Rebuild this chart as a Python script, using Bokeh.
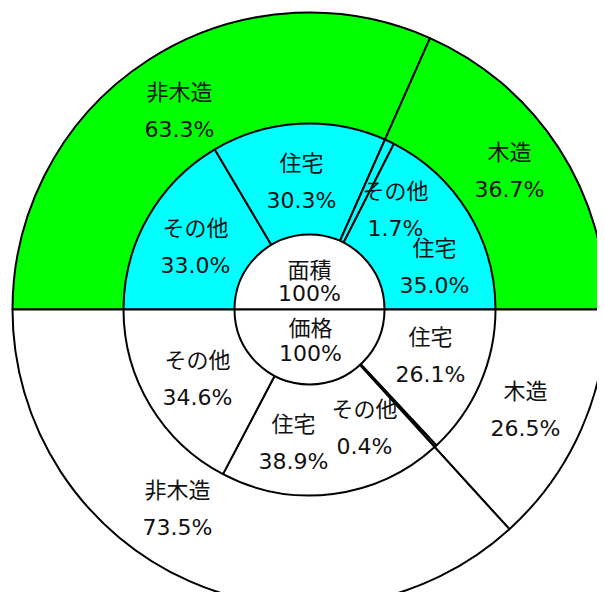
import numpy as np
from bokeh.plotting import figure
from bokeh.models import ColumnDataSource
from bokeh.core.properties import value
from bokeh.embed import file_html
from bokeh.resources import INLINE

# ---- data ----
area_outer_labels = ["非木造", "木造"]
area_outer_values = [63.3, 36.7]
area_mid_labels = ["その他", "住宅", "その他", "住宅"]
area_mid_values = [33.0, 30.3, 1.7, 35.0]
price_outer_labels = ["木造", "非木造"]
price_outer_values = [26.5, 73.5]
price_mid_labels = ["住宅", "その他", "住宅", "その他"]
price_mid_values = [26.1, 0.4, 38.9, 34.6]
center_labels = ["面積", "価格"]
center_values = [100, 100]

# label anchors (pixel offsets from the centre, x right / y up)
area_outer_pos = [(-130, 199), (200, 139)]
area_mid_pos = [(-114, 63), (-8, 128), (86, 100), (125, 43)]
price_outer_pos = [(216, -100), (-132, -199)]
price_mid_pos = [(121, -46), (55, -118), (-16, -133), (-112, -69)]
center_pos = [(0, 28), (1, -31)]
center_gaps = [23, 25]

R_OUT, R_MID, R_IN = 297, 186, 75
GREEN, CYAN, WHITE = "#00FF00", "#00FFFF", "#FFFFFF"

p = figure(width=597, height=592, x_range=(-309, 288), y_range=(-283, 309),
           output_backend="svg", toolbar_location=None, min_border=0)
p.axis.visible = False
p.grid.visible = False
p.outline_line_color = None
p.background_fill_color = "white"


def ring(values, radius, color, top):
    vals = np.array(values, dtype=float)
    frac = vals / vals.sum() * np.pi
    cum = np.concatenate([[0], np.cumsum(frac)])
    if top:
        starts = np.pi - cum[1:]
        ends = np.pi - cum[:-1]
    else:
        starts = -cum[1:]
        ends = -cum[:-1]
    src = ColumnDataSource(dict(start=starts, end=ends))
    p.wedge(x=0, y=0, radius=radius, start_angle="start", end_angle="end",
            source=src, fill_color=color, line_color="black", line_width=2)


ring(area_outer_values, R_OUT, GREEN, True)
ring(price_outer_values, R_OUT, WHITE, False)
ring(area_mid_values, R_MID, CYAN, True)
ring(price_mid_values, R_MID, WHITE, False)
ring([center_values[0]], R_IN, WHITE, True)
ring([center_values[1]], R_IN, WHITE, False)

FONT = value("'DejaVu Sans', 'Noto Sans CJK JP'")


def labels(names, vals, pos, gaps=None, fmt="{:.1f}%"):
    xs, ys, txt = [], [], []
    if gaps is None:
        gaps = [37] * len(names)
    for n, v, (x, y), g in zip(names, vals, pos, gaps):
        xs += [x, x]
        ys += [y + g / 2, y - g / 2]
        txt += [n, fmt.format(v)]
    p.text(x=xs, y=ys, text=txt, text_font=FONT, text_font_size="22px",
           text_align="center", text_baseline="middle", text_color="#111111")


labels(area_outer_labels, area_outer_values, area_outer_pos)
labels(area_mid_labels, area_mid_values, area_mid_pos)
labels(price_outer_labels, price_outer_values, price_outer_pos)
labels(price_mid_labels, price_mid_values, price_mid_pos)
labels(center_labels, center_values, center_pos, gaps=center_gaps, fmt="{:d}%")

open("out.html", "w").write(file_html(p, INLINE))
